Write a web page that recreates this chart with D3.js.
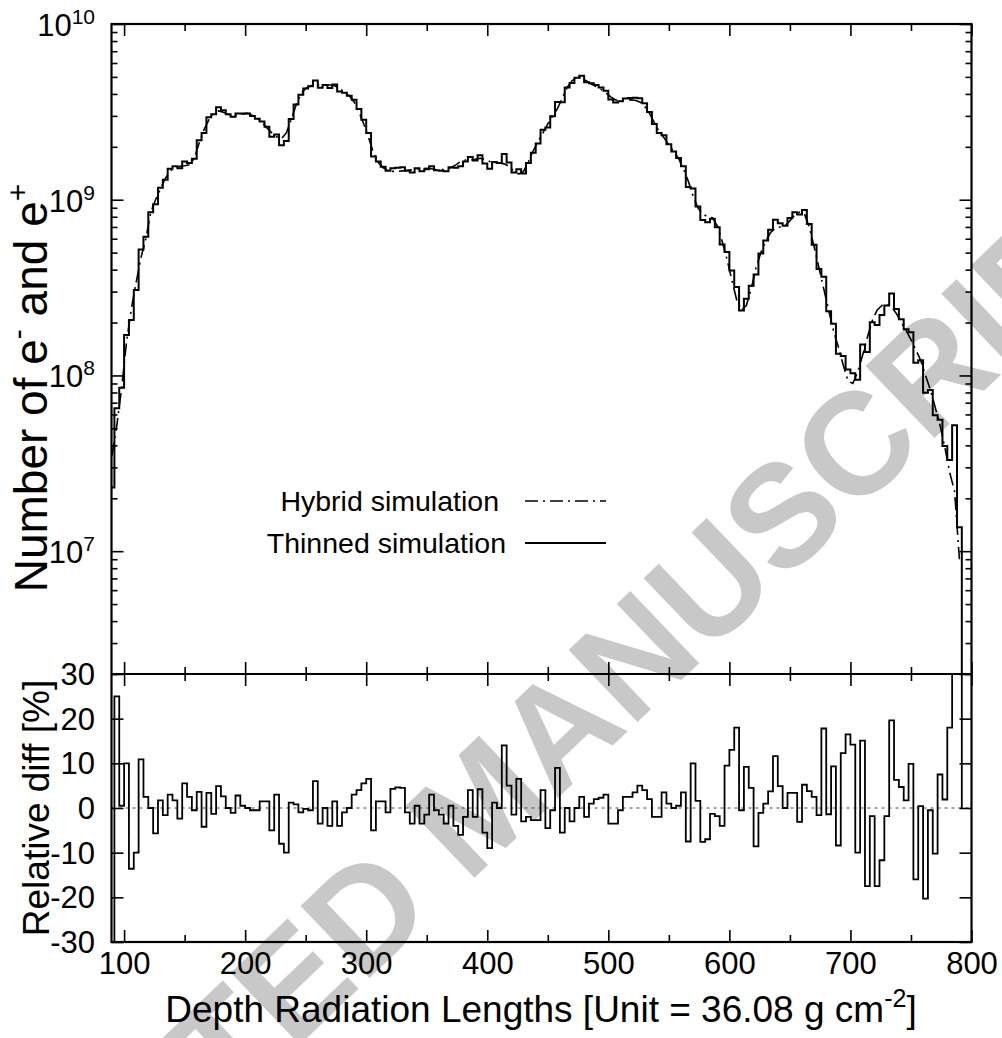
<!DOCTYPE html>
<html>
<head>
<meta charset="utf-8">
<script src="https://cdn.jsdelivr.net/npm/d3@7"></script>
<style>
  body { margin: 0; background: #fff; }
  svg { font-family: "Liberation Sans", Arial, Helvetica, sans-serif; }
</style>
</head>
<body>
<svg width="1002" height="1038"></svg>
<script>
// lower edge of each 4-unit depth bin
var depth = [
  88, 92, 96, 100, 104, 108, 112, 116, 120, 124,
  128, 132, 136, 140, 144, 148, 152, 156, 160, 164,
  168, 172, 176, 180, 184, 188, 192, 196, 200, 204,
  208, 212, 216, 220, 224, 228, 232, 236, 240, 244,
  248, 252, 256, 260, 264, 268, 272, 276, 280, 284,
  288, 292, 296, 300, 304, 308, 312, 316, 320, 324,
  328, 332, 336, 340, 344, 348, 352, 356, 360, 364,
  368, 372, 376, 380, 384, 388, 392, 396, 400, 404,
  408, 412, 416, 420, 424, 428, 432, 436, 440, 444,
  448, 452, 456, 460, 464, 468, 472, 476, 480, 484,
  488, 492, 496, 500, 504, 508, 512, 516, 520, 524,
  528, 532, 536, 540, 544, 548, 552, 556, 560, 564,
  568, 572, 576, 580, 584, 588, 592, 596, 600, 604,
  608, 612, 616, 620, 624, 628, 632, 636, 640, 644,
  648, 652, 656, 660, 664, 668, 672, 676, 680, 684,
  688, 692, 696, 700, 704, 708, 712, 716, 720, 724,
  728, 732, 736, 740, 744, 748, 752, 756, 760, 764,
  768, 772, 776, 780, 784, 788
];
var binWidth = 4;

// hybrid simulation (dash-dot), value at bin centre
var hybrid = [
  3.5e7, 5.2e7, 8.5e7, 1.55e8, 2.4e8, 3.4e8, 4.7e8, 6.0e8, 8.5e8, 1.0e9,
  1.15e9, 1.32e9, 1.46e9, 1.52e9, 1.55e9, 1.56e9, 1.58e9, 1.72e9, 2.1e9, 2.5e9,
  2.85e9, 3.1e9, 3.2e9, 3.15e9, 3.06e9, 3.0e9, 3.02e9, 3.08e9, 3.1e9, 3.02e9,
  2.9e9, 2.75e9, 2.56e9, 2.4e9, 2.28e9, 2.22e9, 2.4e9, 2.85e9, 3.45e9, 4.0e9,
  4.3e9, 4.45e9, 4.5e9, 4.5e9, 4.5e9, 4.5e9, 4.45e9, 4.3e9, 4.1e9, 3.9e9,
  3.6e9, 3.15e9, 2.7e9, 2.25e9, 1.85e9, 1.63e9, 1.52e9, 1.47e9, 1.45e9, 1.45e9,
  1.46e9, 1.47e9, 1.48e9, 1.5e9, 1.5e9, 1.51e9, 1.5e9, 1.48e9, 1.48e9, 1.5e9,
  1.52e9, 1.58e9, 1.65e9, 1.68e9, 1.68e9, 1.7e9, 1.72e9, 1.7e9, 1.65e9, 1.62e9,
  1.62e9, 1.6e9, 1.55e9, 1.45e9, 1.4e9, 1.45e9, 1.65e9, 1.9e9, 2.15e9, 2.4e9,
  2.7e9, 3.0e9, 3.3e9, 3.8e9, 4.35e9, 4.75e9, 4.95e9, 4.95e9, 4.75e9, 4.55e9,
  4.4e9, 4.25e9, 4.05e9, 3.85e9, 3.7e9, 3.65e9, 3.68e9, 3.7e9, 3.68e9, 3.6e9,
  3.4e9, 3.1e9, 2.75e9, 2.45e9, 2.25e9, 2.05e9, 1.88e9, 1.72e9, 1.5e9, 1.28e9,
  1.05e9, 9.0e8, 8.3e8, 8.0e8, 7.9e8, 7.1e8, 5.8e8, 4.6e8, 3.5e8, 2.7e8,
  2.35e8, 2.5e8, 3.1e8, 4.1e8, 5.0e8, 5.8e8, 6.5e8, 6.9e8, 7.0e8, 7.1e8,
  7.6e8, 8.2e8, 8.5e8, 8.3e8, 7.0e8, 5.4e8, 4.1e8, 3.1e8, 2.35e8, 1.8e8,
  1.45e8, 1.15e8, 9.3e7, 9.0e7, 1.05e8, 1.3e8, 1.65e8, 2.05e8, 2.35e8, 2.5e8,
  2.55e8, 2.45e8, 2.25e8, 2.0e8, 1.8e8, 1.6e8, 1.4e8, 1.22e8, 1.0e8, 8.3e7,
  6.6e7, 5.2e7, 3.9e7, 2.8e7, 2.2e7, 9.0e6
];

// thinned simulation (histogram)
var thinned = [
  2.3e7, 6.5e7, 8.5e7, 1.7e8, 2.07e8, 3.06e8, 5.21e8, 6.15e8, 8.5e8, 9.43e8,
  1.17e9, 1.30e9, 1.50e9, 1.55e9, 1.51e9, 1.65e9, 1.62e9, 1.71e9, 2.18e9, 2.40e9,
  2.95e9, 3.06e9, 3.36e9, 3.23e9, 3.06e9, 2.97e9, 3.10e9, 3.10e9, 3.10e9, 3.00e9,
  2.89e9, 2.79e9, 2.60e9, 2.28e9, 2.35e9, 2.04e9, 2.16e9, 2.88e9, 3.48e9, 3.96e9,
  4.29e9, 4.43e9, 4.77e9, 4.34e9, 4.50e9, 4.32e9, 4.52e9, 4.13e9, 4.06e9, 3.90e9,
  3.71e9, 3.28e9, 2.85e9, 2.40e9, 1.76e9, 1.65e9, 1.54e9, 1.46e9, 1.51e9, 1.52e9,
  1.53e9, 1.46e9, 1.43e9, 1.51e9, 1.45e9, 1.49e9, 1.55e9, 1.47e9, 1.46e9, 1.45e9,
  1.53e9, 1.52e9, 1.55e9, 1.65e9, 1.75e9, 1.67e9, 1.79e9, 1.61e9, 1.50e9, 1.64e9,
  1.62e9, 1.82e9, 1.63e9, 1.43e9, 1.49e9, 1.41e9, 1.62e9, 1.85e9, 2.09e9, 2.50e9,
  2.58e9, 2.99e9, 3.60e9, 3.59e9, 4.35e9, 4.61e9, 4.95e9, 5.07e9, 4.66e9, 4.60e9,
  4.49e9, 4.35e9, 4.17e9, 3.72e9, 3.57e9, 3.63e9, 3.77e9, 3.79e9, 3.81e9, 3.78e9,
  3.54e9, 3.16e9, 2.70e9, 2.40e9, 2.33e9, 2.07e9, 1.88e9, 1.73e9, 1.55e9, 1.18e9,
  1.16e9, 9.14e8, 7.67e8, 7.44e8, 7.80e8, 6.97e8, 5.57e8, 5.04e8, 3.96e8, 3.19e8,
  2.34e8, 2.73e8, 3.24e8, 3.75e8, 4.95e8, 5.86e8, 6.74e8, 7.70e8, 7.34e8, 7.10e8,
  7.86e8, 8.48e8, 8.24e8, 8.73e8, 7.27e8, 5.54e8, 4.03e8, 3.65e8, 2.32e8, 1.97e8,
  1.33e8, 1.29e8, 1.08e8, 1.03e8, 9.45e7, 1.50e8, 1.36e8, 2.01e8, 1.94e8, 2.21e8,
  2.50e8, 2.93e8, 2.39e8, 2.09e8, 1.83e8, 1.76e8, 1.18e8, 1.22e8, 7.97e7, 8.26e7,
  5.93e7, 5.59e7, 3.97e7, 3.30e7, 5.2e7, 1.37e7
];

// relative difference [%] per bin
var reldiff = [
  -35, 25, 0.5, 10, -13.6, -10, 10.9, 2.5, 0, -5.7,
  1.7, -1.6, 3, 1.7, -2.4, 5.5, 2.5, -0.5, 3.6, -4.2,
  3.4, -1.3, 4.9, 2.6, 0, -1.1, 2.8, 0.5, 0, -0.5,
  -0.5, 1.5, 1.5, -5, 3, -8, -10, 1.2, 0.8, -1,
  -0.2, -0.5, 6, -3.5, 0, -4, 1.5, -4, -1, 0,
  3, 4, 5.5, 6.5, -5, 1.5, 1.5, -1, 4.3, 4.6,
  4.5, -1, -3.5, 0.5, -3.5, -1.5, 3, -0.5, -1.5, -3.5,
  0.5, -4, -6, -2, 4, -2, 4.2, -5.5, -9, 1.2,
  0, 14, 5, -1.5, 6.5, -3, -2, -2.7, -2.7, 4,
  -4.5, -0.5, 9, -5.5, 0, -3, 0, 2.5, -2, 1,
  2, 2.3, 3, -3.5, -3.5, -0.5, 2.5, 2.5, 3.5, 5,
  4, 2, -2, -2, 3.5, 1, 0, 0.5, 3.5, -7.5,
  10, 1.6, -7.6, -7, -1.3, -1.8, -4, 9.5, 13, 18,
  -0.5, 9.2, 4.5, -8.6, -1.1, 1, 3.7, 11.6, 4.9, 0,
  3.4, 3.4, -3.1, 5.2, 3.8, 2.5, -1.6, 17.8, -1.4, 9.3,
  -8.4, 12.3, 16.5, 14.2, -10, 15.1, -17.5, -1.8, -17.5, -11.7,
  -1.8, 19.6, 6.3, 4.7, 1.7, 9.9, -16, 0.4, -20.3, -0.5,
  -10.2, 7.5, 1.9, 18, 136, 52
];

var xTicks = [100, 200, 300, 400, 500, 600, 700, 800];
var xMinor = [150, 250, 350, 450, 550, 650, 750];
var decades = [1e7, 1e8, 1e9, 1e10];
var decadeExp = ["7", "8", "9", "10"];
var diffTicks = [-30, -20, -10, 0, 10, 20, 30];

var svg = d3.select("svg");
var x0 = 111.5, x1 = 971.5, yA = 24, yM = 674, yB = 942;

var x = d3.scaleLinear().domain([89.6, 800]).range([x0, x1]);
var yTop = d3.scaleLog().domain([2e6, 1e10]).range([yM, yA]);
var yBot = d3.scaleLinear().domain([-30, 30]).range([yB, yM]);

// minor log ticks 2..9 per decade
var logMinor = [];
[1e6, 1e7, 1e8, 1e9].forEach(function(d) {
  for (var m = 2; m <= 9; m++) {
    if (d * m >= 2e6) logMinor.push(d * m);
  }
});

// watermark
svg.append("text")
   .attr("transform", "translate(514,840) rotate(-43.7)")
   .attr("text-anchor", "middle")
   .attr("font-size", 145)
   .attr("font-weight", "bold")
   .attr("fill", "#c8c8c8")
   .text("ACCEPTED MANUSCRIPT");

var defs = svg.append("defs");
defs.append("clipPath").attr("id", "clipTop").append("rect")
    .attr("x", x0).attr("y", yA).attr("width", x1 - x0).attr("height", yM - yA);
defs.append("clipPath").attr("id", "clipBot").append("rect")
    .attr("x", x0).attr("y", yM).attr("width", x1 - x0).attr("height", yB - yM);

// step histogram points: left edge of every bin, then the closing edge
function steps(vals, endVal) {
  var pts = depth.map(function(d, i) { return [d, vals[i]]; });
  var lastEdge = depth[depth.length - 1] + binWidth;
  pts.push([lastEdge, vals[vals.length - 1]]);
  pts.push([lastEdge, endVal]);
  return pts;
}

var stepTop = d3.line().curve(d3.curveStepAfter)
    .x(function(d) { return x(d[0]); })
    .y(function(d) { return yTop(d[1]); });
var stepBot = d3.line().curve(d3.curveStepAfter)
    .x(function(d) { return x(d[0]); })
    .y(function(d) { return yBot(Math.max(-40, Math.min(40, d[1]))); });
var hybridLine = d3.line()
    .x(function(d, i) { return x(depth[i] + binWidth / 2); })
    .y(function(d) { return yTop(d); });

// zero reference in the lower panel
svg.append("line")
   .attr("x1", x0).attr("x2", x1)
   .attr("y1", yBot(0)).attr("y2", yBot(0))
   .attr("stroke", "#444").attr("stroke-width", 1)
   .attr("stroke-dasharray", "3,4");

var gTop = svg.append("g").attr("clip-path", "url(#clipTop)");
gTop.append("path")
    .attr("d", hybridLine(hybrid))
    .attr("fill", "none").attr("stroke", "#000").attr("stroke-width", 1.6)
    .attr("stroke-dasharray", "13,5,2,5");
gTop.append("path")
    .attr("d", stepTop(steps(thinned, 1e6)))
    .attr("fill", "none").attr("stroke", "#000").attr("stroke-width", 2);

var gBot = svg.append("g").attr("clip-path", "url(#clipBot)");
gBot.append("path")
    .attr("d", stepBot(steps(reldiff, 0)))
    .attr("fill", "none").attr("stroke", "#000").attr("stroke-width", 1.8);

// ticks (all pointing inward)
function ticks(axis, tx, ty) {
  var g = svg.append("g").attr("transform", "translate(" + tx + "," + ty + ")").call(axis);
  g.select(".domain").remove();
  g.selectAll("line").attr("stroke", "#000").attr("stroke-width", 1.6);
  g.selectAll("text").remove();
  return g;
}
ticks(d3.axisLeft(yTop).tickValues(decades).tickSize(-12), x0, 0);
ticks(d3.axisLeft(yTop).tickValues(logMinor).tickSize(-6), x0, 0);
ticks(d3.axisRight(yTop).tickValues(decades).tickSize(-12), x1, 0);
ticks(d3.axisRight(yTop).tickValues(logMinor).tickSize(-6), x1, 0);
ticks(d3.axisLeft(yBot).tickValues(diffTicks).tickSize(-12), x0, 0);
ticks(d3.axisRight(yBot).tickValues(diffTicks).tickSize(-12), x1, 0);
// top edge: down; panel divider: up and down; bottom edge: up
ticks(d3.axisTop(x).tickValues(xTicks).tickSize(-12), 0, yA);
ticks(d3.axisTop(x).tickValues(xMinor).tickSize(-7), 0, yA);
ticks(d3.axisBottom(x).tickValues(xTicks).tickSize(-12), 0, yM);
ticks(d3.axisBottom(x).tickValues(xMinor).tickSize(-7), 0, yM);
ticks(d3.axisBottom(x).tickValues(xTicks).tickSize(12), 0, yM);
ticks(d3.axisBottom(x).tickValues(xMinor).tickSize(7), 0, yM);
ticks(d3.axisBottom(x).tickValues(xTicks).tickSize(-12), 0, yB);
ticks(d3.axisBottom(x).tickValues(xMinor).tickSize(-7), 0, yB);

// frames
svg.append("rect").attr("x", x0).attr("y", yA)
   .attr("width", x1 - x0).attr("height", yB - yA)
   .attr("fill", "none").attr("stroke", "#000").attr("stroke-width", 2.2);
svg.append("line").attr("x1", x0).attr("x2", x1)
   .attr("y1", yM).attr("y2", yM)
   .attr("stroke", "#000").attr("stroke-width", 2.2);

// tick labels
var fs = 31;
var xl = svg.append("g").attr("transform", "translate(0," + yB + ")")
    .call(d3.axisBottom(x).tickValues(xTicks).tickSize(0).tickPadding(10));
xl.select(".domain").remove();
xl.selectAll("text").attr("font-size", fs).attr("font-family", null).attr("fill", "#000");

decades.forEach(function(d, i) {
  var t = svg.append("text")
     .attr("x", 95).attr("y", yTop(d) + 12)
     .attr("text-anchor", "end").attr("font-size", fs);
  t.append("tspan").text("10");
  t.append("tspan").attr("font-size", 21).attr("dy", -12).text(decadeExp[i]);
});
diffTicks.forEach(function(d) {
  svg.append("text")
     .attr("x", 95).attr("y", yBot(d) + 11)
     .attr("text-anchor", "end").attr("font-size", fs)
     .text(d);
});

// axis titles
var xt = svg.append("text").attr("x", 541).attr("y", 1022)
    .attr("text-anchor", "middle").attr("font-size", 37);
xt.append("tspan").text("Depth Radiation Lengths [Unit = 36.08 g cm");
xt.append("tspan").attr("font-size", 25).attr("dy", -15).text("-2");
xt.append("tspan").attr("dy", 15).text("]");

var yt = svg.append("text").attr("transform", "translate(47,388) rotate(-90)")
    .attr("text-anchor", "middle").attr("font-size", 46);
yt.append("tspan").text("Number of e");
yt.append("tspan").attr("font-size", 30).attr("dy", -19).text("-");
yt.append("tspan").attr("dy", 19).text(" and e");
yt.append("tspan").attr("font-size", 30).attr("dy", -19).text("+");

svg.append("text").attr("transform", "translate(49,808) rotate(-90)")
   .attr("text-anchor", "middle").attr("font-size", 37)
   .text("Relative diff [%]");

// legend
var legend = [
  {label: "Hybrid simulation", y: 501, end: 499, dash: "13,5,2,5", w: 1.6},
  {label: "Thinned simulation", y: 543, end: 506, dash: null, w: 2}
];
legend.forEach(function(d) {
  svg.append("text").attr("x", d.end).attr("y", d.y + 10)
     .attr("text-anchor", "end").attr("font-size", 28.5).text(d.label);
  svg.append("line").attr("x1", 525).attr("x2", 606)
     .attr("y1", d.y).attr("y2", d.y)
     .attr("stroke", "#000").attr("stroke-width", d.w)
     .attr("stroke-dasharray", d.dash);
});
</script>
</body>
</html>
